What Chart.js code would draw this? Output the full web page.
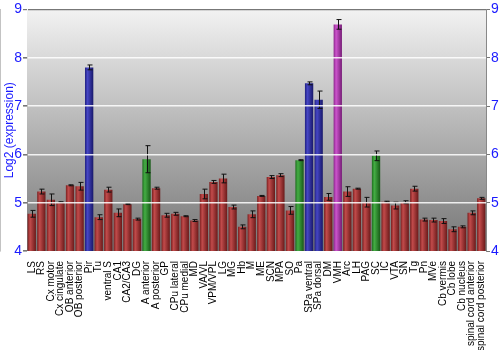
<!DOCTYPE html>
<html>
<head>
<meta charset="utf-8">
<script src="https://cdn.jsdelivr.net/npm/chart.js@4"></script>
<style>
  body { margin: 0; background: #fff; }
  canvas { display: block; }
</style>
</head>
<body>
<canvas id="exprChart" width="500" height="350"></canvas>
<script>
const regions = ['LS', 'RS', 'Cx motor', 'Cx cingulate', 'OB anterior', 'OB posterior', 'Pir', 'Tu',
    'ventral S', 'CA1', 'CA2/CA3', 'DG', 'A anterior', 'A posterior', 'GP', 'CPu lateral', 'CPu medial',
    'MD', 'VA/VL', 'VPM/VPL', 'LG', 'MG', 'Hb', 'M', 'ME', 'SCN', 'MPA', 'SO', 'Pa', 'SPa ventral',
    'SPa dorsal', 'DM', 'VMH', 'Arc', 'LH', 'PAG', 'SC', 'IC', 'VTA', 'SN', 'Tg', 'Pn', 'MVe',
    'Cb vermis', 'Cb lobe', 'Cb nucleus', 'spinal cord anterior', 'spinal cord posterior'];

const expression = [4.77, 5.23, 5.06, 5.01, 5.36, 5.34, 7.80, 4.70, 5.27, 4.79, 4.97, 4.66, 5.90, 5.30,
    4.74, 4.77, 4.72, 4.63, 5.18, 5.43, 5.50, 4.91, 4.50, 4.76, 5.14, 5.53, 5.57, 4.84, 5.88, 7.47,
    7.13, 5.12, 8.69, 5.23, 5.29, 5.01, 5.97, 5.02, 4.94, 5.01, 5.29, 4.65, 4.64, 4.62, 4.45, 4.50,
    4.79, 5.09];

const stdErr = [0.07, 0.05, 0.12, 0.01, 0.01, 0.08, 0.05, 0.05, 0.05, 0.08, 0.01, 0.02, 0.28, 0.02,
    0.04, 0.03, 0.01, 0.02, 0.10, 0.03, 0.09, 0.04, 0.04, 0.07, 0.01, 0.03, 0.03, 0.08, 0.01, 0.03,
    0.18, 0.07, 0.10, 0.10, 0.01, 0.10, 0.10, 0.01, 0.07, 0.03, 0.05, 0.03, 0.04, 0.05, 0.05, 0.02,
    0.04, 0.02];

// bar colour group: r = red, b = blue, g = green, m = magenta
const group = ['r', 'r', 'r', 'r', 'r', 'r', 'b', 'r', 'r', 'r', 'r', 'r', 'g', 'r', 'r', 'r', 'r',
    'r', 'r', 'r', 'r', 'r', 'r', 'r', 'r', 'r', 'r', 'r', 'g', 'b', 'b', 'r', 'm', 'r', 'r', 'r',
    'g', 'r', 'r', 'r', 'r', 'r', 'r', 'r', 'r', 'r', 'r', 'r'];

const yTicks = [4, 5, 6, 7, 8, 9];

const palette = {
    r: ['#7a1f1f', '#c24b4b', '#6a1a1a'],
    b: ['#1f1f80', '#4646c4', '#18186a'],
    g: ['#1f6e1f', '#44ad44', '#185a18'],
    m: ['#8a248a', '#cc55cc', '#761c76']
};
const BLUE = '#1a1aff';
const BAR_PCT = 0.87;

function barFill(context) {
    const chart = context.chart;
    const x = chart.scales.x;
    const stops = palette[group[context.dataIndex]];
    if (!x || x.width === undefined) return stops[1];
    const cx = x.getPixelForValue(context.dataIndex);
    const w = x.width / regions.length * BAR_PCT;
    const g = chart.ctx.createLinearGradient(cx - w / 2, 0, cx + w / 2, 0);
    g.addColorStop(0, stops[0]);
    g.addColorStop(0.3, stops[1]);
    g.addColorStop(1, stops[2]);
    return g;
}

// plot background gradient
const backdrop = {
    id: 'backdrop',
    beforeDatasetsDraw(chart) {
        const { ctx, chartArea: a } = chart;
        const g = ctx.createLinearGradient(0, a.top, 0, a.bottom);
        g.addColorStop(0, '#f2f2f2');
        g.addColorStop(1, '#767676');
        ctx.save();
        ctx.fillStyle = g;
        ctx.fillRect(a.left, a.top, a.right - a.left, a.bottom - a.top);
        ctx.restore();
    }
};

// error whiskers
const whiskers = {
    id: 'whiskers',
    afterDatasetsDraw(chart) {
        const { ctx, scales: { x, y } } = chart;
        ctx.save();
        ctx.strokeStyle = '#111';
        ctx.lineWidth = 1;
        expression.forEach((v, i) => {
            const e = stdErr[i];
            const cx = Math.round(x.getPixelForValue(i)) + 0.5;
            const top = y.getPixelForValue(v + e);
            const bot = y.getPixelForValue(v - e);
            ctx.beginPath();
            ctx.moveTo(cx, top); ctx.lineTo(cx, bot);
            ctx.moveTo(cx - 2, top); ctx.lineTo(cx + 3, top);
            ctx.moveTo(cx - 2, bot); ctx.lineTo(cx + 3, bot);
            ctx.stroke();
        });
        ctx.restore();
    }
};

const yScaleBase = {
    min: 4,
    max: 9,
    afterBuildTicks: axis => { axis.ticks = yTicks.map(v => ({ value: v })); },
};

const chart = new Chart(document.getElementById('exprChart'), {
    type: 'bar',
    data: {
        labels: regions,
        datasets: [{
            label: 'Log2 (expression)',
            data: expression,
            backgroundColor: barFill,
            borderWidth: 0,
            barPercentage: BAR_PCT,
            categoryPercentage: 1.0
        }]
    },
    options: {
        responsive: false,
        animation: false,
        layout: { padding: { top: 9, left: 0, right: 0, bottom: 0 } },
        plugins: {
            legend: { display: false },
            tooltip: { enabled: false }
        },
        scales: {
            x: {
                grid: { display: false },
                border: { display: false },
                ticks: {
                    autoSkip: false,
                    minRotation: 90,
                    maxRotation: 90,
                    padding: 2,
                    color: '#000',
                    font: { family: 'Liberation Sans', size: 10 }
                },
                afterFit: s => { s.height = 99; }
            },
            y: {
                ...yScaleBase,
                position: 'left',
                title: {
                    display: true,
                    text: 'Log2 (expression)',
                    color: BLUE,
                    padding: { top: 2, bottom: 0 },
                    font: { family: 'Liberation Sans', size: 12 }
                },
                border: { display: true, color: '#888' },
                grid: {
                    z: 1,
                    color: c => c.tick.value === 9 ? '#777' : (c.tick.value === 4 ? 'rgba(0,0,0,0)' : 'rgba(255,255,255,0.85)'),
                    lineWidth: c => c.tick.value === 9 ? 1.2 : 1.6,
                    tickColor: '#777',
                    tickLength: 4
                },
                ticks: {
                    color: BLUE,
                    padding: 1,
                    font: { family: 'Liberation Sans', size: 14 }
                },
                afterFit: s => { s.width = 27; }
            },
            y2: {
                ...yScaleBase,
                position: 'right',
                border: { display: true, color: '#888' },
                grid: { drawOnChartArea: false, tickColor: '#777', tickLength: 4 },
                ticks: {
                    color: BLUE,
                    padding: 1,
                    font: { family: 'Liberation Sans', size: 14 }
                },
                afterFit: s => { s.width = 14; }
            }
        }
    },
    plugins: [backdrop, whiskers]
});
</script>
</body>
</html>
